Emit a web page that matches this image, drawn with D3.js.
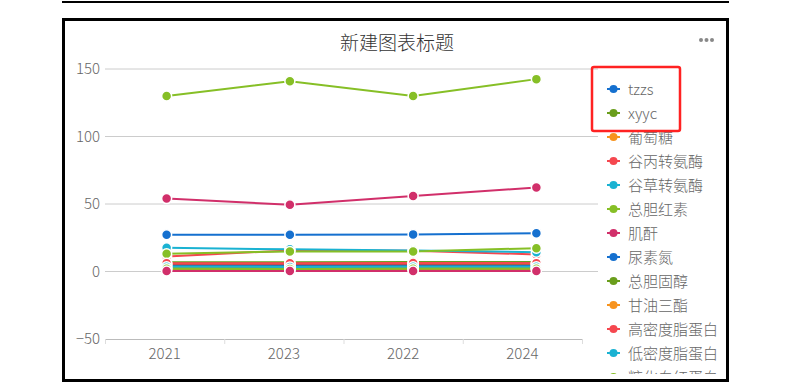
<!DOCTYPE html>
<html>
<head>
<meta charset="utf-8">
<script src="https://cdn.jsdelivr.net/npm/d3@7"></script>
<style>
  body { margin: 0; background: #fff; }
  svg { display: block; font-family: "Noto Sans CJK SC", "Noto Sans", sans-serif; }
  text { font-weight: 300; }
</style>
</head>
<body>
<svg id="chart" width="805" height="387"></svg>
<script>
const years = ['2021', '2023', '2022', '2024']
const yTicks = [-50, 0, 50, 100, 150]
const seriesNames = ['tzzs', 'xyyc', '葡萄糖', '谷丙转氨酶', '谷草转氨酶', '总胆红素', '肌酐',
  '尿素氮', '总胆固醇', '甘油三酯', '高密度脂蛋白', '低密度脂蛋白', '糖化血红蛋白',
  '同型半胱氨酸', '尿酸', '血钾', '血钠', '血钙', '血镁', '血磷', '血氯']
const seriesValues = [
  [27.2, 27.2, 27.5, 28.4],
  [6.8, 6.8, 7.0, 7.0],
  [5.4, 5.5, 5.3, 5.6],
  [11.1, 15.6, 15.4, 12.6],
  [17.6, 16.4, 15.6, 14.3],
  [130, 141, 130, 142.5],
  [54, 49.5, 56, 62.2],
  [4.6, 4.5, 4.7, 4.8],
  [4.9, 5.0, 4.8, 5.1],
  [1.6, 1.5, 1.7, 1.6],
  [1.3, 1.2, 1.3, 1.4],
  [3.2, 3.1, 3.0, 3.3],
  [13.1, 14.9, 14.9, 17.3],
  [5.7, 5.8, 5.7, 5.9],
  [3.8, 3.9, 3.8, 4.0],
  [2.6, 2.6, 2.7, 2.6],
  [2.2, 2.1, 2.2, 2.3],
  [6.2, 6.1, 6.3, 6.2],
  [3.5, 3.4, 3.5, 3.6],
  [2.0, 1.9, 2.0, 2.1],
  [0.3, 0.3, 0.3, 0.3]
]
const palette = ['#1570cf', '#6a9e1c', '#f7931e', '#f5474f', '#1ab2d2', '#86bf26', '#d12f6a']

const svg = d3.select('#chart')

// outer frame
svg.append('line')
  .attr('x1', 62).attr('x2', 729).attr('y1', 2).attr('y2', 2)
  .attr('stroke', '#000').attr('stroke-width', 2)
svg.append('rect')
  .attr('x', 63.5).attr('y', 19.5).attr('width', 664).attr('height', 361)
  .attr('fill', '#fff').attr('stroke', '#000').attr('stroke-width', 3)

const defs = svg.append('defs')
defs.append('clipPath').attr('id', 'inner')
  .append('rect').attr('x', 65).attr('y', 21).attr('width', 661).attr('height', 358)
defs.append('clipPath').attr('id', 'legendClip')
  .append('rect').attr('x', 590).attr('y', 70).attr('width', 136).attr('height', 304)

const root = svg.append('g').attr('clip-path', 'url(#inner)')

const margin = { left: 105, right: 582, gridRight: 598, top: 69, bottom: 339 }

const y = d3.scaleLinear().domain([-50, 150]).range([margin.bottom, margin.top])
const xAxisScale = d3.scaleBand().domain(years).range([margin.left, margin.right])
const xPoint = d3.scalePoint().domain(years).range([margin.left, margin.gridRight]).padding(0.5)

// title
root.append('text')
  .attr('x', 397).attr('y', 50)
  .attr('text-anchor', 'middle')
  .attr('font-size', 19)
  .attr('fill', '#333')
  .text('新建图表标题')

root.append('g')
  .selectAll('circle')
  .data([0, 1, 2])
  .enter()
  .append('circle')
  .attr('cx', d => 701 + d * 5.5).attr('cy', 40).attr('r', 2)
  .attr('fill', '#888')

// grid lines
root.append('g')
  .selectAll('line')
  .data(yTicks.filter(d => d !== -50))
  .enter()
  .append('line')
  .attr('x1', margin.left).attr('x2', margin.gridRight)
  .attr('y1', d => y(d)).attr('y2', d => y(d))
  .attr('stroke', '#ccc').attr('stroke-width', 1)

// y axis labels
const leftAxis = d3.axisLeft(y).tickValues(yTicks).tickSize(0).tickPadding(5)
const yAxisG = root.append('g')
  .attr('transform', `translate(${margin.left}, 0)`)
  .call(leftAxis)
yAxisG.select('.domain').remove()
yAxisG.selectAll('text').attr('font-size', 15).attr('fill', '#666')
  .style('font-family', '"Noto Sans CJK SC", sans-serif')

// x axis
root.append('line')
  .attr('x1', margin.left).attr('x2', margin.right)
  .attr('y1', y(-50) + 0.5).attr('y2', y(-50) + 0.5)
  .attr('stroke', '#bbb')
root.append('g')
  .selectAll('line')
  .data(years.map(d => xAxisScale(d)).concat([margin.right]))
  .enter()
  .append('line')
  .attr('x1', d => d + 0.5).attr('x2', d => d + 0.5)
  .attr('y1', y(-50)).attr('y2', y(-50) + 5)
  .attr('stroke', '#ddd')

const bottomAxis = d3.axisBottom(xAxisScale).tickSize(0).tickPadding(9)
const xAxisG = root.append('g')
  .attr('transform', `translate(0, ${y(-50)})`)
  .call(bottomAxis)
xAxisG.select('.domain').remove()
xAxisG.selectAll('text').attr('font-size', 15).attr('fill', '#666')
  .style('font-family', '"Noto Sans CJK SC", sans-serif')

// lines
const series = seriesNames.map((name, i) => ({
  name: name,
  color: palette[i % palette.length],
  values: seriesValues[i].map((v, j) => ({ year: years[j], value: v }))
}))

const line = d3.line()
  .x(d => xPoint(d.year))
  .y(d => y(d.value))

root.append('g')
  .selectAll('path')
  .data(series)
  .enter()
  .append('path')
  .attr('d', d => line(d.values))
  .attr('fill', 'none')
  .attr('stroke', d => d.color)
  .attr('stroke-width', 2)

const markerGroups = root.append('g')
  .selectAll('g')
  .data(series)
  .enter()
  .append('g')

markerGroups.selectAll('circle')
  .data(d => d.values.map(v => ({ ...v, color: d.color })))
  .enter()
  .append('circle')
  .attr('cx', d => xPoint(d.year))
  .attr('cy', d => y(d.value))
  .attr('r', 5)
  .attr('fill', d => d.color)
  .attr('stroke', '#fff')
  .attr('stroke-width', 1.5)

// legend (scrolls past the bottom of the box, so it is clipped)
const legend = root.append('g')
  .attr('clip-path', 'url(#legendClip)')
  .selectAll('g')
  .data(series)
  .enter()
  .append('g')
  .attr('transform', (d, i) => `translate(607, ${89 + i * 24})`)

legend.append('line')
  .attr('x1', 0).attr('x2', 13).attr('y1', 0).attr('y2', 0)
  .attr('stroke', d => d.color).attr('stroke-width', 2)
  .attr('stroke-dasharray', '3,7,3')
legend.append('circle')
  .attr('cx', 6.5).attr('cy', 0).attr('r', 4)
  .attr('fill', d => d.color)
legend.append('text')
  .attr('x', 21).attr('y', 5.5)
  .attr('font-size', 15)
  .attr('fill', '#666')
  .text(d => d.name)

// highlight box
root.append('rect')
  .attr('x', 592).attr('y', 67).attr('width', 88).attr('height', 64)
  .attr('rx', 2)
  .attr('fill', 'none')
  .attr('stroke', '#f22')
  .attr('stroke-width', 2.5)
</script>
</body>
</html>
